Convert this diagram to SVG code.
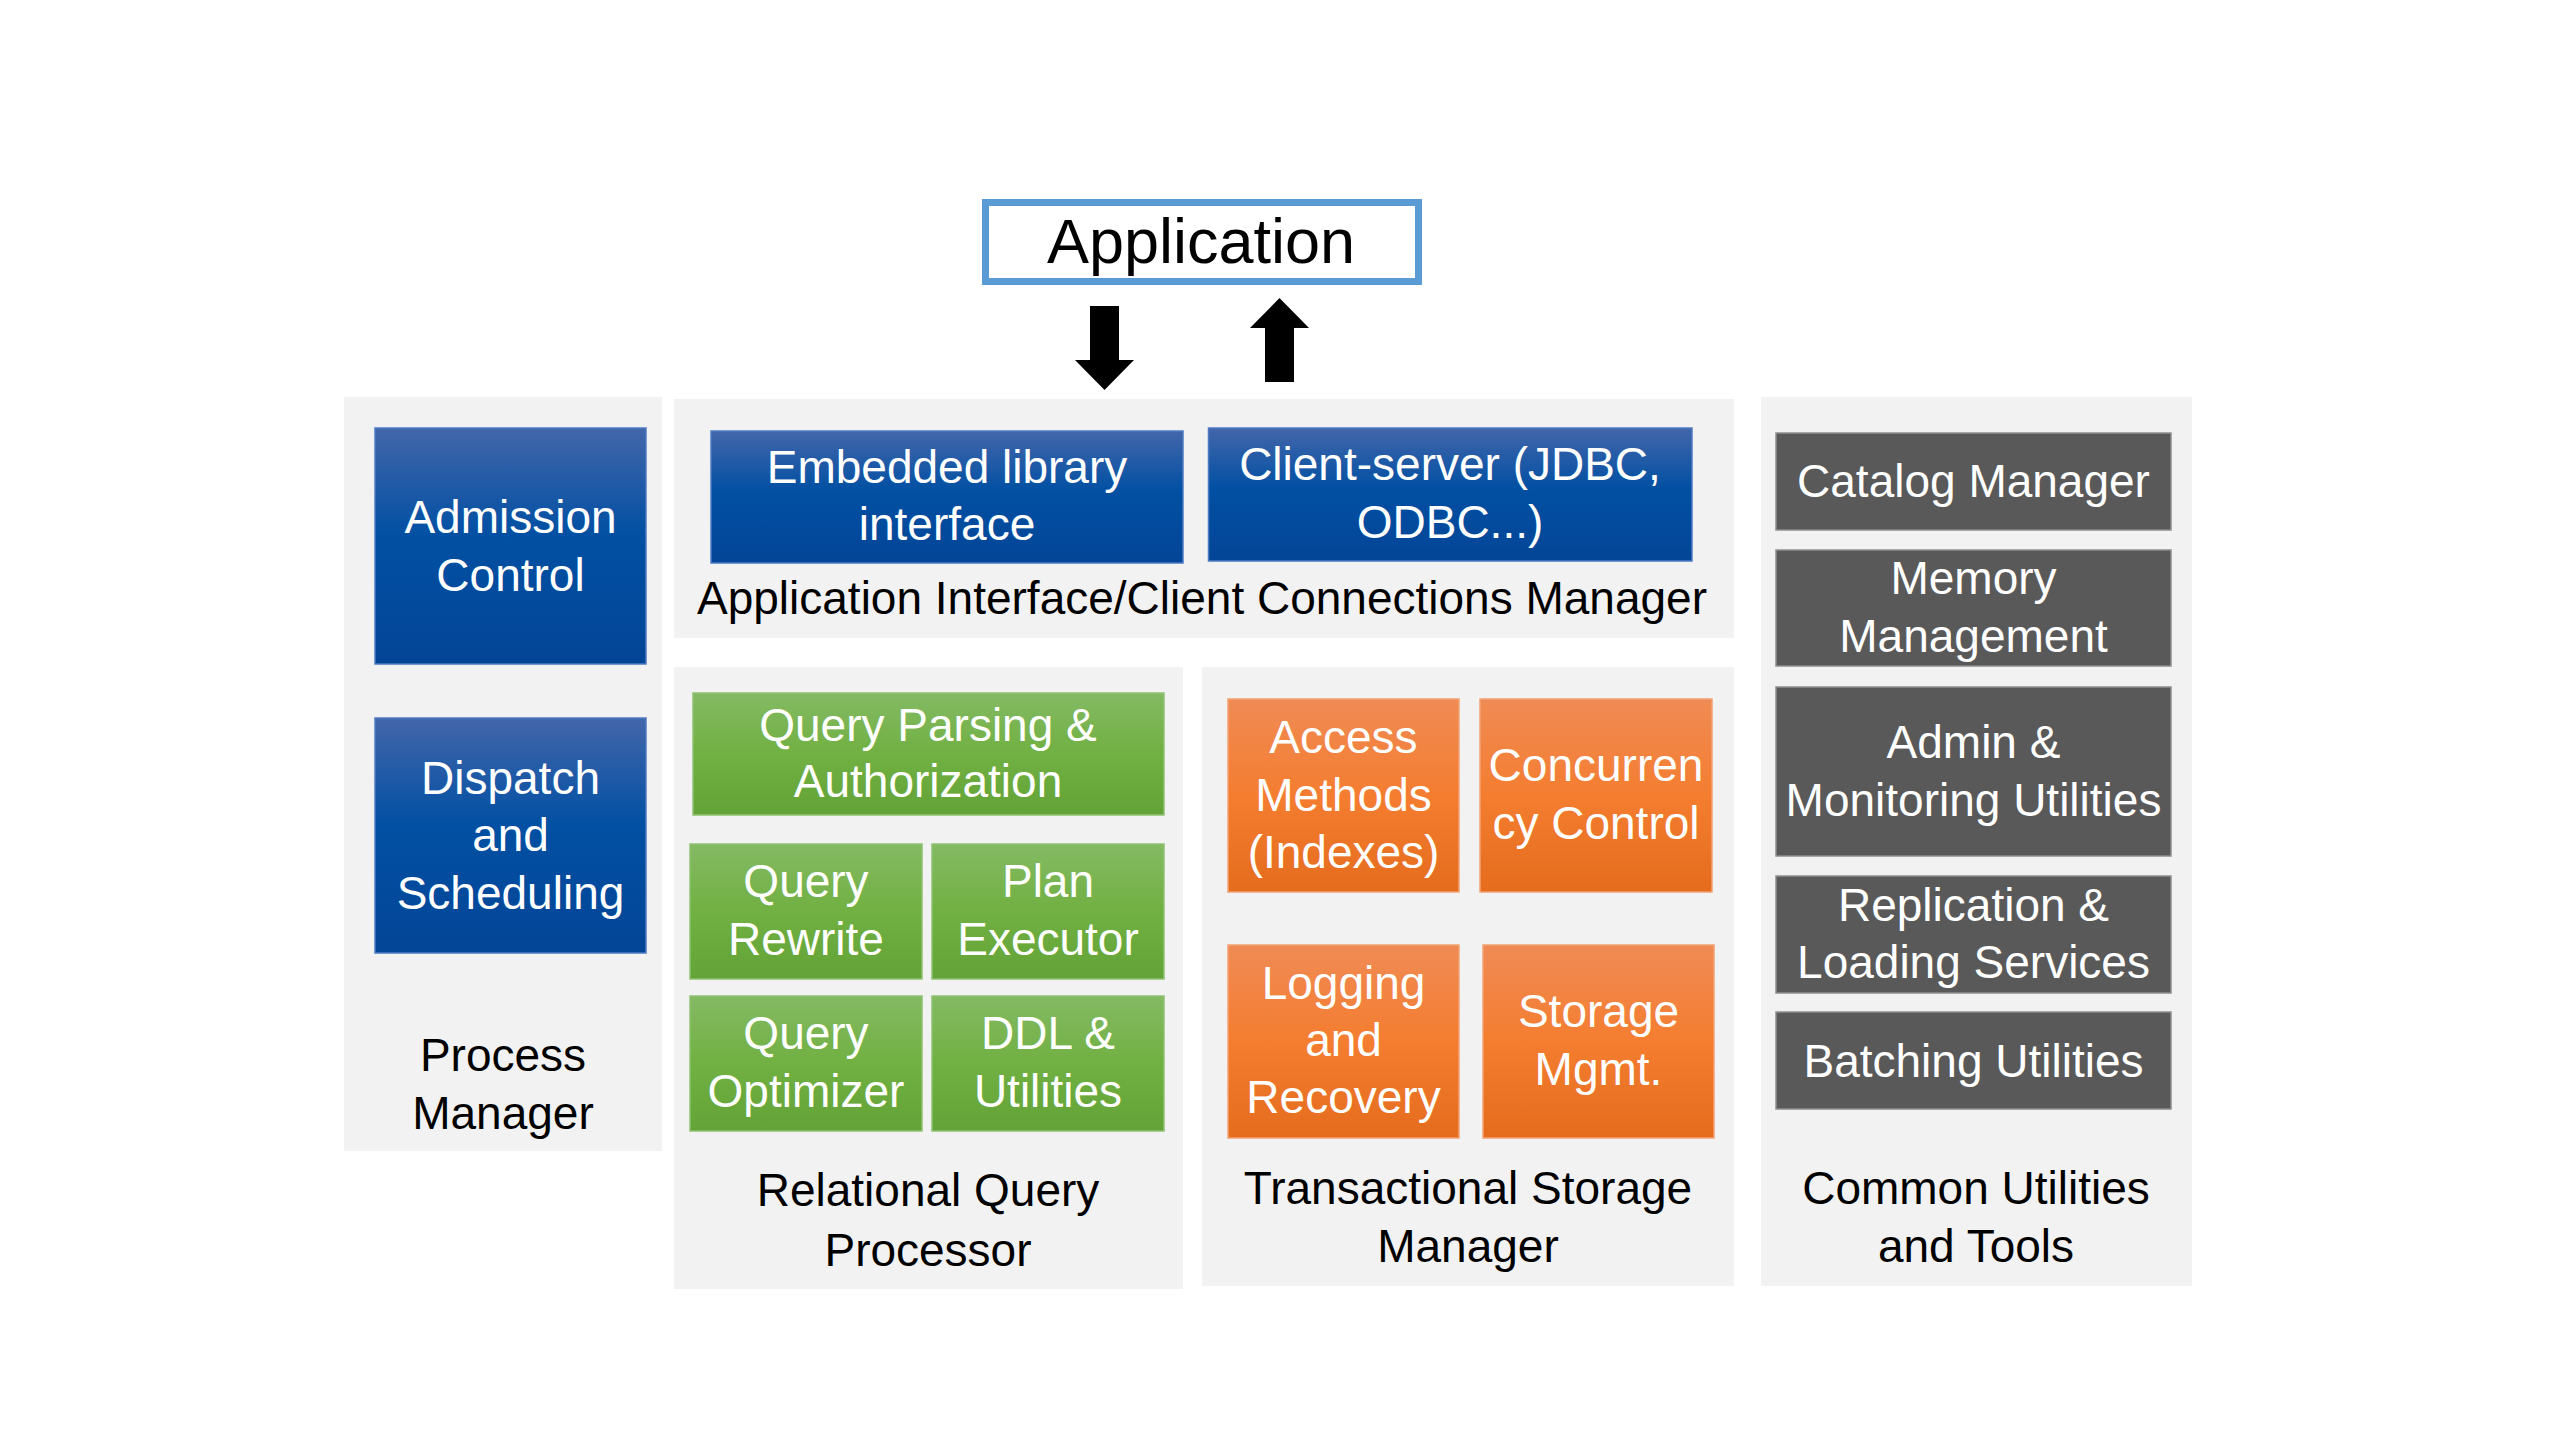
<svg xmlns="http://www.w3.org/2000/svg" width="2560" height="1440" viewBox="0 0 2560 1440">
<defs>
<linearGradient id="gBlue" x1="0" y1="0" x2="0" y2="1">
<stop offset="0" stop-color="#4366AA"/>
<stop offset="0.45" stop-color="#0250A3"/>
<stop offset="1" stop-color="#034597"/>
</linearGradient>
<linearGradient id="gGreen" x1="0" y1="0" x2="0" y2="1">
<stop offset="0" stop-color="#84BA64"/>
<stop offset="0.5" stop-color="#71B042"/>
<stop offset="1" stop-color="#63A337"/>
</linearGradient>
<linearGradient id="gOrange" x1="0" y1="0" x2="0" y2="1">
<stop offset="0" stop-color="#F08B55"/>
<stop offset="0.5" stop-color="#F47D30"/>
<stop offset="1" stop-color="#E56C1D"/>
</linearGradient>
<style>
.panel{fill:#F2F2F2;}
.blue{fill:url(#gBlue);stroke:#4E7BC2;stroke-width:1.5;}
.green{fill:url(#gGreen);stroke:#8FC270;stroke-width:1.5;}
.orange{fill:url(#gOrange);stroke:#F3A274;stroke-width:1.5;}
.grey{fill:#595959;stroke:#8E8E8E;stroke-width:1.5;}
text{font-family:"Liberation Sans",Arial,sans-serif;font-size:46px;text-anchor:middle;}
.w{fill:#FFFFFF;}
.k{fill:#000000;}
.arrow{fill:#000000;}
</style>
</defs>

<g id="app">
<rect x="985.5" y="202.5" width="433" height="79" fill="#FFFFFF" stroke="#5B9BD5" stroke-width="7"/>
<text class="k" x="1201" y="263" style="font-size:63px">Application</text>
</g>

<g id="connectors">
<polygon class="arrow" points="1090,306 1119,306 1119,360 1134,360 1104.5,390 1075,360 1090,360"/>
<polygon class="arrow" points="1279.5,298 1309,328 1294,328 1294,382 1265,382 1265,328 1250,328"/>
</g>

<g id="process-manager">
<rect class="panel" x="344" y="397" width="318" height="754"/>
<text class="k" x="503" y="1071">Process</text>
<text class="k" x="503" y="1129">Manager</text>
</g>
<g id="admission-control">
<rect class="blue" x="375" y="428" width="271" height="236"/>
<text class="w" x="510.5" y="533">Admission</text>
<text class="w" x="510.5" y="591">Control</text>
</g>
<g id="dispatch-scheduling">
<rect class="blue" x="375" y="718" width="271" height="235"/>
<text class="w" x="510.5" y="794">Dispatch</text>
<text class="w" x="510.5" y="851">and</text>
<text class="w" x="510.5" y="909">Scheduling</text>
</g>

<g id="app-interface-manager">
<rect class="panel" x="674" y="399" width="1060" height="239"/>
<text class="k" x="1202" y="614">Application Interface/Client Connections Manager</text>
</g>
<g id="embedded-library">
<rect class="blue" x="711" y="431" width="472" height="132"/>
<text class="w" x="947" y="483">Embedded library</text>
<text class="w" x="947" y="540">interface</text>
</g>
<g id="client-server">
<rect class="blue" x="1208.5" y="428" width="483.5" height="133"/>
<text class="w" x="1450" y="480">Client-server (JDBC,</text>
<text class="w" x="1450" y="538">ODBC...)</text>
</g>

<g id="relational-query-processor">
<rect class="panel" x="674" y="667" width="509" height="622"/>
<text class="k" x="928" y="1206">Relational Query</text>
<text class="k" x="928" y="1266">Processor</text>
</g>
<g id="query-parsing">
<rect class="green" x="693" y="693" width="471" height="122"/>
<text class="w" x="928" y="741">Query Parsing &amp;</text>
<text class="w" x="928" y="797">Authorization</text>
</g>
<g id="query-rewrite">
<rect class="green" x="690" y="844" width="232" height="135"/>
<text class="w" x="806" y="897">Query</text>
<text class="w" x="806" y="955">Rewrite</text>
</g>
<g id="plan-executor">
<rect class="green" x="932" y="844" width="232" height="135"/>
<text class="w" x="1048" y="897">Plan</text>
<text class="w" x="1048" y="955">Executor</text>
</g>
<g id="query-optimizer">
<rect class="green" x="690" y="996" width="232" height="135"/>
<text class="w" x="806" y="1049">Query</text>
<text class="w" x="806" y="1107">Optimizer</text>
</g>
<g id="ddl-utilities">
<rect class="green" x="932" y="996" width="232" height="135"/>
<text class="w" x="1048" y="1049">DDL &amp;</text>
<text class="w" x="1048" y="1107">Utilities</text>
</g>

<g id="transactional-storage-manager">
<rect class="panel" x="1202" y="667" width="532" height="619"/>
<text class="k" x="1468" y="1204">Transactional Storage</text>
<text class="k" x="1468" y="1262">Manager</text>
</g>
<g id="access-methods">
<rect class="orange" x="1228" y="699" width="231" height="193"/>
<text class="w" x="1343.5" y="753">Access</text>
<text class="w" x="1343.5" y="811">Methods</text>
<text class="w" x="1343.5" y="868">(Indexes)</text>
</g>
<g id="concurrency-control">
<rect class="orange" x="1480" y="699" width="232" height="193"/>
<text class="w" x="1596" y="781">Concurren</text>
<text class="w" x="1596" y="839">cy Control</text>
</g>
<g id="logging-recovery">
<rect class="orange" x="1228" y="945" width="231" height="193"/>
<text class="w" x="1343.5" y="999">Logging</text>
<text class="w" x="1343.5" y="1056">and</text>
<text class="w" x="1343.5" y="1113">Recovery</text>
</g>
<g id="storage-mgmt">
<rect class="orange" x="1483" y="945" width="231" height="193"/>
<text class="w" x="1598.5" y="1027">Storage</text>
<text class="w" x="1598.5" y="1085">Mgmt.</text>
</g>

<g id="common-utilities">
<rect class="panel" x="1761" y="397" width="431" height="889"/>
<text class="k" x="1976" y="1204">Common Utilities</text>
<text class="k" x="1976" y="1262">and Tools</text>
</g>
<g id="catalog-manager">
<rect class="grey" x="1776" y="433" width="395" height="97"/>
<text class="w" x="1973.5" y="497">Catalog Manager</text>
</g>
<g id="memory-management">
<rect class="grey" x="1776" y="550" width="395" height="116"/>
<text class="w" x="1973.5" y="594">Memory</text>
<text class="w" x="1973.5" y="652">Management</text>
</g>
<g id="admin-monitoring">
<rect class="grey" x="1776" y="687" width="395" height="169"/>
<text class="w" x="1973.5" y="758">Admin &amp;</text>
<text class="w" x="1973.5" y="816">Monitoring Utilities</text>
</g>
<g id="replication-loading">
<rect class="grey" x="1776" y="876" width="395" height="117"/>
<text class="w" x="1973.5" y="921">Replication &amp;</text>
<text class="w" x="1973.5" y="978">Loading Services</text>
</g>
<g id="batching-utilities">
<rect class="grey" x="1776" y="1012" width="395" height="97"/>
<text class="w" x="1973.5" y="1077">Batching Utilities</text>
</g>
</svg>
